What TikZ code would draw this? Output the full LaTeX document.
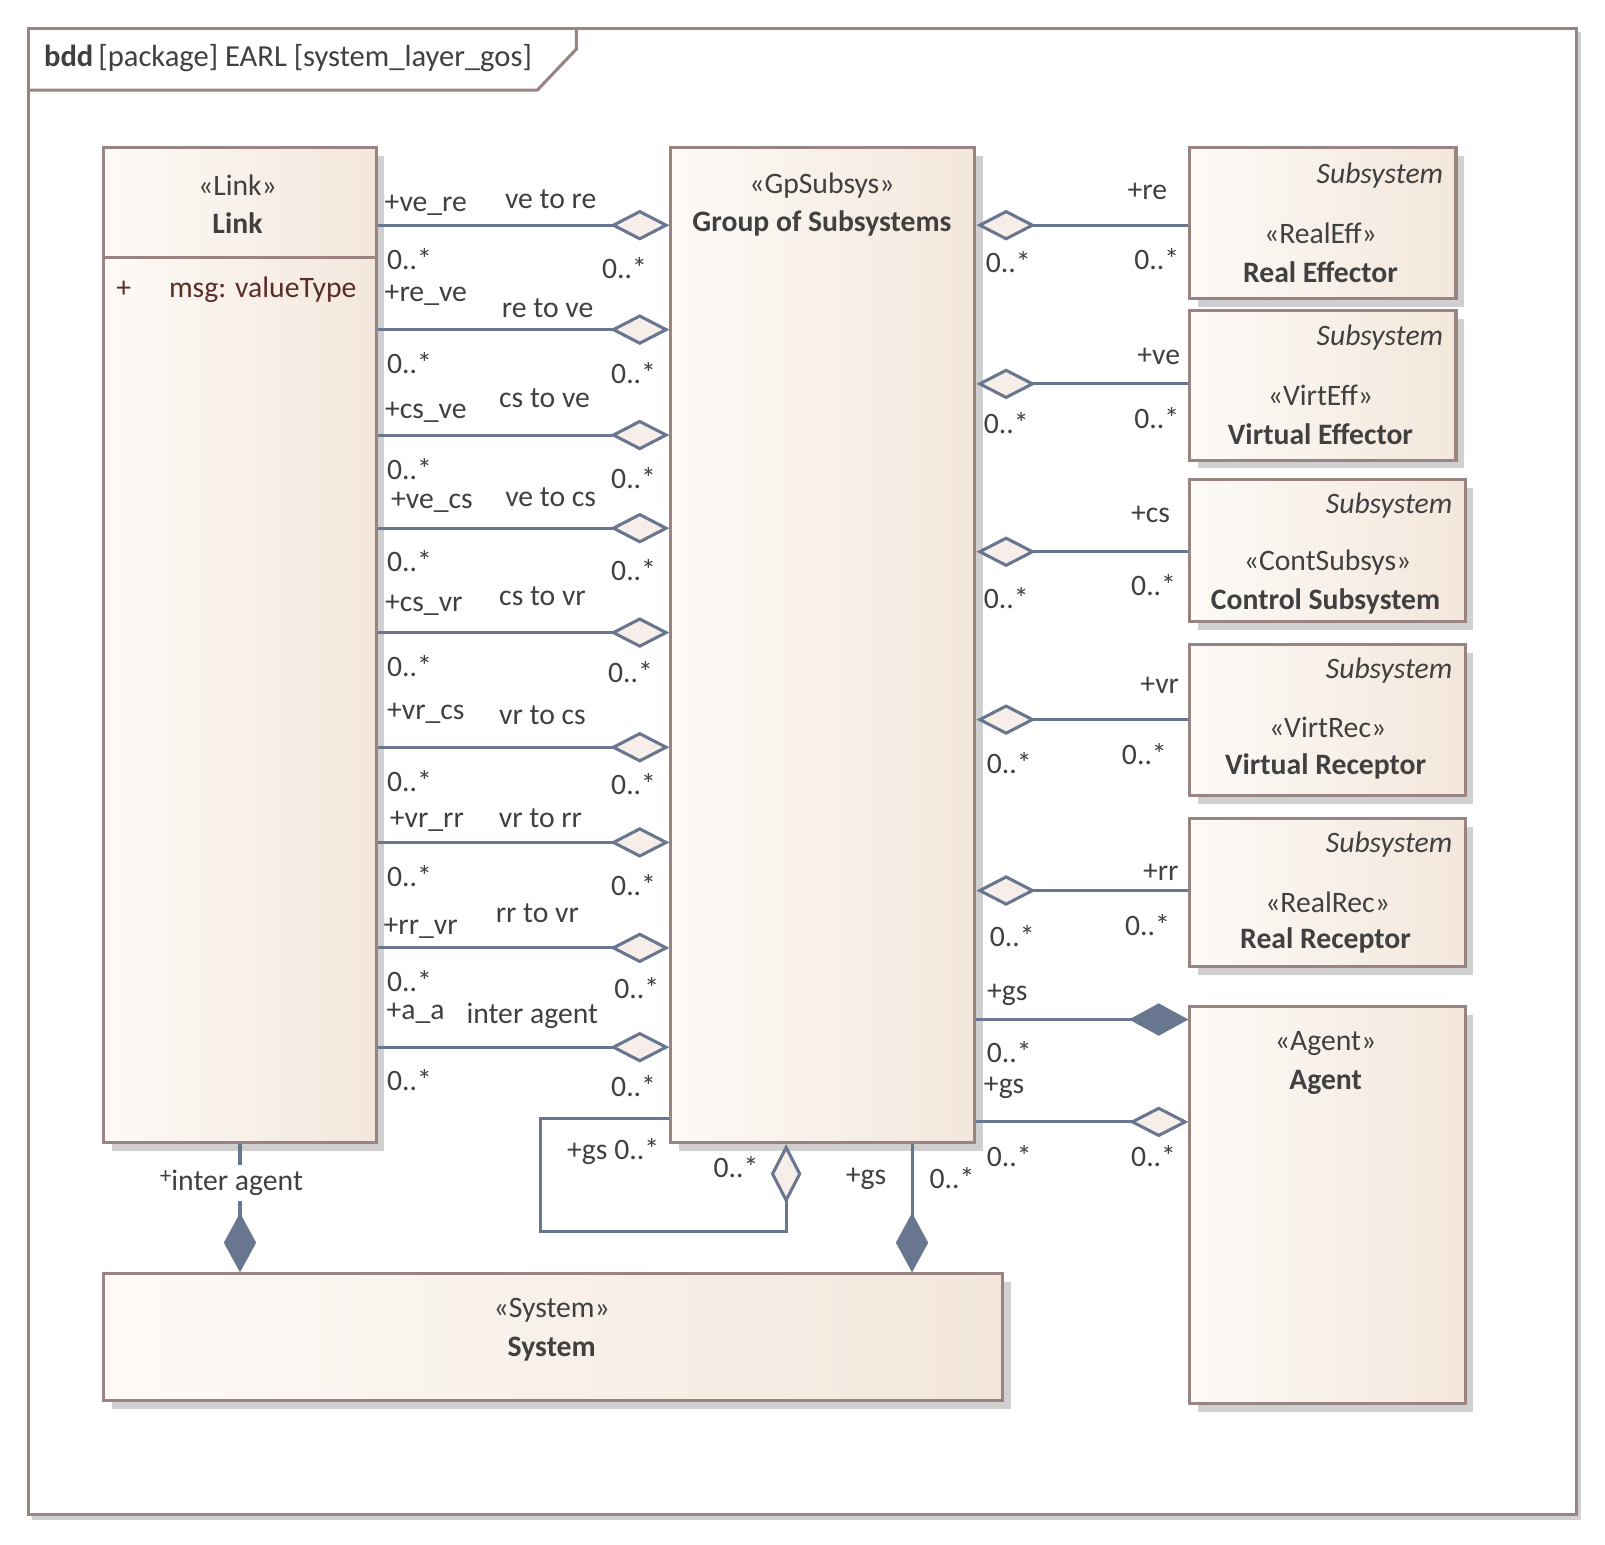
\documentclass[tikz,border=0pt]{standalone}
\usepackage{fontspec}
\setmainfont{Carlito}
\usetikzlibrary{arrows.meta}
\usetikzlibrary{shadows}

\definecolor{edgecol}{HTML}{687690}
\definecolor{boxline}{HTML}{9A8482}
\definecolor{fillL}{HTML}{FDFAF7}
\definecolor{fillR}{HTML}{F3E7DC}
\definecolor{txt}{HTML}{404040}
\definecolor{attrcol}{HTML}{5A2E26}
\definecolor{shad}{HTML}{D0D0D0}
\definecolor{dfill}{HTML}{F8EEE9}

\tikzset{
  block/.style={draw=boxline, line width=1.7pt, left color=fillL, right color=fillR,
    anchor=north west, inner sep=0pt,
    drop shadow={shadow xshift=0.16cm, shadow yshift=-0.16cm, fill=shad, opacity=1}},
  lbl/.style={font=\fontsize{16.5}{19}\selectfont, text=txt, inner sep=1pt},
  aggr/.style={draw=edgecol, line width=1.7pt, -{Diamond[length=33pt,width=17pt,fill=dfill]}},
  comp/.style={draw=edgecol, line width=1.7pt, -{Diamond[length=33pt,width=18pt,fill=edgecol]}},
  frame/.style={draw=boxline, line width=1.7pt}
}

\begin{document}
\begin{tikzpicture}[x=0.02cm, y=-0.02cm]
\useasboundingbox (0,0) rectangle (1568,1509);

% frame
\draw[shad, line width=1.7pt] (31,1483) -- (1543,1483) -- (1543,31);
\draw[frame, fill=white] (28,28) rectangle (1540,1480);
\draw[frame] (28,88) -- (525,88) -- (563,48) -- (563,28);
\node[lbl, anchor=west, font=\fontsize{17}{20}\selectfont] (title) at (41,57) {\textbf{bdd}\,[package] EARL [system\_layer\_gos]};

% blocks
\node[block, minimum width=5.32cm, minimum height=19.44cm] (link) at (100,143) {};
\node[block, minimum width=5.94cm, minimum height=19.44cm] (grp) at (654,143) {};
\node[block, minimum width=5.2cm, minimum height=2.94cm] (re) at (1161,143) {};
\node[block, minimum width=5.2cm, minimum height=2.92cm] (ve) at (1161,302) {};
\node[block, minimum width=5.38cm, minimum height=2.78cm] (cs) at (1161,467) {};
\node[block, minimum width=5.38cm, minimum height=2.96cm] (vr) at (1161,628) {};
\node[block, minimum width=5.38cm, minimum height=2.9cm] (rr) at (1161,798) {};
\node[block, minimum width=5.38cm, minimum height=7.76cm] (agent) at (1161,982) {};
\node[block, minimum width=17.56cm, minimum height=2.48cm] (sys) at (100,1243) {};
\draw[draw=boxline, line width=1.7pt] (link.west |- 0,252) -- (link.east |- 0,252);

% block texts
\node[lbl] (linkst) at (232,181) {«Link»};
\node[lbl] (linknm) at (232,218) {\textbf{Link}};
\node[lbl, text=attrcol] (attrp) at (121,283) {+};
\node[lbl, text=attrcol, anchor=west] (attrm) at (163,283) {msg: valueType};
\node[lbl] (grpst) at (803,181) {«GpSubsys»};
\node[lbl] (grpnm) at (803,218) {\textbf{Group of Subsystems}};
\node[lbl, anchor=east] (rekw) at (1412,172) {\textit{Subsystem}};
\node[lbl] (rest) at (1290,228) {«RealEff»};
\node[lbl] (renm) at (1290,266) {\textbf{Real Effector}};
\node[lbl, anchor=east] (vekw) at (1412,330) {\textit{Subsystem}};
\node[lbl] (vest) at (1290,386) {«VirtEff»};
\node[lbl] (venm) at (1290,424) {\textbf{Virtual Effector}};
\node[lbl, anchor=east] (cskw) at (1421,494) {\textit{Subsystem}};
\node[lbl] (csst) at (1297,550) {«ContSubsys»};
\node[lbl] (csnm) at (1295,588) {\textbf{Control Subsystem}};
\node[lbl, anchor=east] (vrkw) at (1421,655) {\textit{Subsystem}};
\node[lbl] (vrst) at (1297,711) {«VirtRec»};
\node[lbl] (vrnm) at (1295,749) {\textbf{Virtual Receptor}};
\node[lbl, anchor=east] (rrkw) at (1421,825) {\textit{Subsystem}};
\node[lbl] (rrst) at (1297,881) {«RealRec»};
\node[lbl] (rrnm) at (1295,919) {\textbf{Real Receptor}};
\node[lbl] (agst) at (1295,1019) {«Agent»};
\node[lbl] (agnm) at (1295,1057) {\textbf{Agent}};
\node[lbl] (sysst) at (539,1280) {«System»};
\node[lbl] (sysnm) at (539,1318) {\textbf{System}};

% link to group
\draw[aggr] (link.east |- 0,220) -- (grp.west |- 0,220);
\draw[aggr] (link.east |- 0,322) -- (grp.west |- 0,322);
\draw[aggr] (link.east |- 0,425) -- (grp.west |- 0,425);
\draw[aggr] (link.east |- 0,516) -- (grp.west |- 0,516);
\draw[aggr] (link.east |- 0,618) -- (grp.west |- 0,618);
\draw[aggr] (link.east |- 0,730) -- (grp.west |- 0,730);
\draw[aggr] (link.east |- 0,823) -- (grp.west |- 0,823);
\draw[aggr] (link.east |- 0,926) -- (grp.west |- 0,926);
\draw[aggr] (link.east |- 0,1023) -- (grp.west |- 0,1023);

\node[lbl] (r1) at (416,201) {+ve\_re};
\node[lbl] (a1) at (538,195) {ve to re};
\node[lbl] (m1l) at (400,253) {0..*};
\node[lbl] (m1r) at (610,262) {0..*};
\node[lbl] (r2) at (416,289) {+re\_ve};
\node[lbl] (a2) at (535,301) {re to ve};
\node[lbl] (m2l) at (400,355) {0..*};
\node[lbl] (m2r) at (619,364) {0..*};
\node[lbl] (r3) at (416,403) {+cs\_ve};
\node[lbl] (a3) at (532,389) {cs to ve};
\node[lbl] (m3l) at (400,458) {0..*};
\node[lbl] (m3r) at (619,467) {0..*};
\node[lbl] (r4) at (422,491) {+ve\_cs};
\node[lbl] (a4) at (538,486) {ve to cs};
\node[lbl] (m4l) at (400,548) {0..*};
\node[lbl] (m4r) at (619,557) {0..*};
\node[lbl] (r5) at (414,591) {+cs\_vr};
\node[lbl] (a5) at (530,582) {cs to vr};
\node[lbl] (m5l) at (400,651) {0..*};
\node[lbl] (m5r) at (616,657) {0..*};
\node[lbl] (r6) at (416,697) {+vr\_cs};
\node[lbl] (a6) at (530,699) {vr to cs};
\node[lbl] (m6l) at (400,763) {0..*};
\node[lbl] (m6r) at (619,766) {0..*};
\node[lbl] (r7) at (417,802) {+vr\_rr};
\node[lbl] (a7) at (528,799) {vr to rr};
\node[lbl] (m7l) at (400,856) {0..*};
\node[lbl] (m7r) at (619,865) {0..*};
\node[lbl] (r8) at (411,907) {+rr\_vr};
\node[lbl] (a8) at (525,892) {rr to vr};
\node[lbl] (m8l) at (400,958) {0..*};
\node[lbl] (m8r) at (622,965) {0..*};
\node[lbl] (r9) at (406,990) {+a\_a};
\node[lbl] (a9) at (520,992) {inter agent};
\node[lbl] (m9l) at (400,1055) {0..*};
\node[lbl] (m9r) at (619,1061) {0..*};

% group to subsystems
\draw[aggr] (re.west |- 0,220) -- (grp.east |- 0,220);
\draw[aggr] (ve.west |- 0,375) -- (grp.east |- 0,375);
\draw[aggr] (cs.west |- 0,539) -- (grp.east |- 0,539);
\draw[aggr] (vr.west |- 0,703) -- (grp.east |- 0,703);
\draw[aggr] (rr.west |- 0,870) -- (grp.east |- 0,870);

\node[lbl] (rre) at (1121,187) {+re};
\node[lbl] (mrel) at (985,256) {0..*};
\node[lbl] (mrer) at (1130,253) {0..*};
\node[lbl] (rve) at (1132,348) {+ve};
\node[lbl] (mvel) at (983,413) {0..*};
\node[lbl] (mver) at (1130,408) {0..*};
\node[lbl] (rcs) at (1124,503) {+cs};
\node[lbl] (mcsl) at (983,584) {0..*};
\node[lbl] (mcsr) at (1127,572) {0..*};
\node[lbl] (rvr) at (1133,670) {+vr};
\node[lbl] (mvrl) at (986,745) {0..*};
\node[lbl] (mvrr) at (1118,737) {0..*};
\node[lbl] (rrr) at (1134,852) {+rr};
\node[lbl] (mrrl) at (989,914) {0..*};
\node[lbl] (mrrr) at (1121,904) {0..*};

% group to agent
\draw[comp] (grp.east |- 0,996) -- (agent.west |- 0,996);
\draw[aggr] (grp.east |- 0,1096) -- (agent.west |- 0,1096);
\node[lbl] (rgs1) at (984,972) {+gs};
\node[lbl] (mgs1) at (986,1028) {0..*};
\node[lbl] (rgs2) at (981,1063) {+gs};
\node[lbl] (mgs2l) at (986,1129) {0..*};
\node[lbl] (mgs2r) at (1127,1129) {0..*};

% group self loop
\coordinate (loopa) at (528,1093);
\coordinate (loopb) at (528,1203);
\coordinate (loopc) at (768,1203);
\draw[aggr] (grp.west |- loopa) -- (loopa) -- (loopb) -- (loopc) -- (grp.south -| loopc);
\node[lbl] (rgs3) at (599,1125) {+gs 0..*};
\node[lbl] (mgs3) at (719,1140) {0..*};

% into system
\draw[comp] (grp.south -| 891,0) -- (sys.north -| 891,0);
\node[lbl] (rgs4) at (846,1152) {+gs};
\node[lbl] (mgs4) at (930,1151) {0..*};
\draw[comp] (link.south) -- (sys.north -| link.south);
\node[lbl, fill=white, inner sep=3pt] (rint) at (226,1156) {\raisebox{4pt}{\fontsize{13}{13}\selectfont+}inter agent};
\end{tikzpicture}
\end{document}
